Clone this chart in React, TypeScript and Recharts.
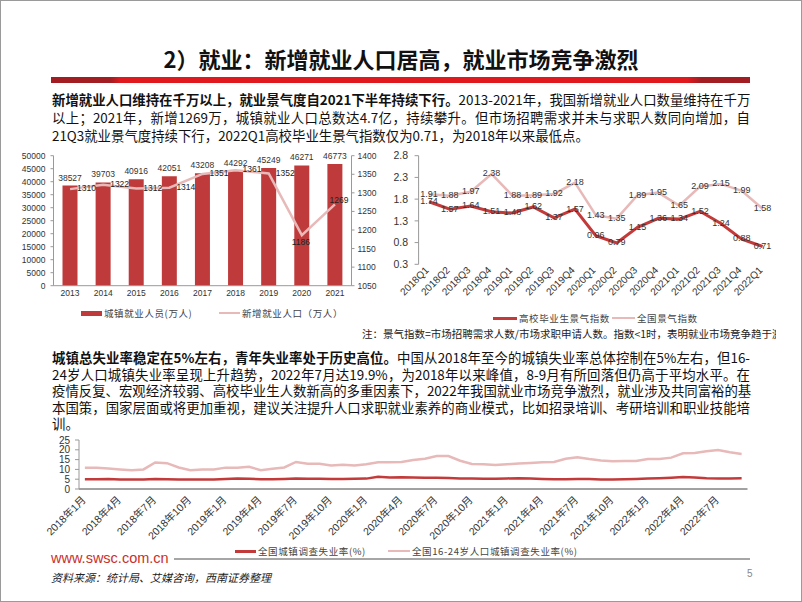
import React from 'react';
import { ComposedChart, LineChart, Bar, Line, XAxis, YAxis, LabelList } from 'recharts';

// 城镇就业人员 / 新增就业人口（万人）
const years = ['2013', '2014', '2015', '2016', '2017', '2018', '2019', '2020', '2021'];
const urbanEmployed = [38527, 39703, 40916, 42051, 43208, 44292, 45249, 46271, 46773];
const newEmployed = [1310, 1322, 1312, 1314, 1351, 1361, 1352, 1186, 1269];
const employedTicks = [0, 5000, 10000, 15000, 20000, 25000, 30000, 35000, 40000, 45000, 50000];
const newTicks = [1050, 1100, 1150, 1200, 1250, 1300, 1350, 1400];

// 景气指数
const quarters = ['2018Q1', '2018Q2', '2018Q3', '2018Q4', '2019Q1', '2019Q2', '2019Q3', '2019Q4', '2020Q1', '2020Q2', '2020Q3', '2020Q4', '2021Q1', '2021Q2', '2021Q3', '2021Q4', '2022Q1'];
const graduateIndex = [1.74, 1.57, 1.64, 1.51, 1.48, 1.62, 1.37, 1.57, 0.96, 0.79, 1.15, 1.36, 1.34, 1.52, 1.24, 0.88, 0.71];
const nationalIndex = [1.91, 1.88, 1.97, 2.38, 1.88, 1.89, 1.92, 2.18, 1.43, 1.35, 1.89, 1.95, 1.65, 2.09, 2.15, 1.99, 1.58];
const indexTicks = [0.3, 0.8, 1.3, 1.8, 2.3, 2.8];

// 调查失业率（%）
const months = [
  '2018年1月', '2018年2月', '2018年3月', '2018年4月', '2018年5月', '2018年6月', '2018年7月', '2018年8月', '2018年9月', '2018年10月', '2018年11月', '2018年12月',
  '2019年1月', '2019年2月', '2019年3月', '2019年4月', '2019年5月', '2019年6月', '2019年7月', '2019年8月', '2019年9月', '2019年10月', '2019年11月', '2019年12月',
  '2020年1月', '2020年2月', '2020年3月', '2020年4月', '2020年5月', '2020年6月', '2020年7月', '2020年8月', '2020年9月', '2020年10月', '2020年11月', '2020年12月',
  '2021年1月', '2021年2月', '2021年3月', '2021年4月', '2021年5月', '2021年6月', '2021年7月', '2021年8月', '2021年9月', '2021年10月', '2021年11月', '2021年12月',
  '2022年1月', '2022年2月', '2022年3月', '2022年4月', '2022年5月', '2022年6月', '2022年7月', '2022年8月', '2022年9月',
];
const urbanRate = [
  5.0, 5.0, 5.1, 4.9, 4.8, 4.8, 5.1, 5.0, 4.9, 4.9, 4.8, 4.9,
  5.1, 5.3, 5.2, 5.0, 5.0, 5.1, 5.3, 5.2, 5.2, 5.1, 5.1, 5.2,
  5.3, 6.2, 5.9, 6.0, 5.9, 5.7, 5.7, 5.6, 5.4, 5.3, 5.2, 5.2,
  5.4, 5.5, 5.3, 5.1, 5.0, 5.0, 5.1, 5.1, 4.9, 4.9, 5.0, 5.1,
  5.3, 5.5, 5.8, 6.1, 5.9, 5.5, 5.4, 5.3, 5.5,
];
const youthRate = [
  10.9, 10.9, 10.5, 10.0, 9.6, 10.0, 13.5, 13.2, 11.0, 9.6, 10.0, 10.0,
  10.9, 10.9, 11.3, 9.6, 10.3, 11.0, 13.8, 12.9, 12.9, 12.0, 12.4, 12.0,
  12.6, 13.6, 13.6, 13.8, 14.8, 15.4, 16.8, 16.8, 14.4, 12.8, 12.6, 12.3,
  12.6, 13.0, 13.3, 13.6, 13.8, 15.4, 16.2, 15.3, 14.6, 14.2, 14.3, 14.3,
  15.3, 15.3, 16.0, 18.2, 18.4, 19.3, 19.9, 18.7, 17.9,
];
const rateTicks = [0, 5, 10, 15, 20, 25];

const employData = years.map((year, i) => ({ year, employed: urbanEmployed[i], added: newEmployed[i] }));
const indexData = quarters.map((q, i) => ({ q, graduate: graduateIndex[i], national: nationalIndex[i] }));
const rateData = months.map((m, i) => ({ m, urban: urbanRate[i], youth: youthRate[i] }));

const NUM_FONT = '"Liberation Sans", Arial, "Noto Sans CJK SC", sans-serif';
const CJK_FONT = '"Noto Sans CJK SC", sans-serif';
const DARK_RED = '#BF3B3B';
const PINK = '#E8B9B9';

const AddedLabel = (props: any) => {
  const { x, y, value, index } = props;
  let tx = x + 7;
  let ty = y;
  let anchor: any = 'start';
  if (index === 7) { tx = x - 1; ty = y + 8; anchor = 'middle'; }
  if (index === 8) { tx = x + 4; ty = y - 4; anchor = 'middle'; }
  return (
    <text x={tx} y={ty} textAnchor={anchor} dominantBaseline="middle" fontSize={8.5} fill="#222" fontFamily={NUM_FONT}>
      {value}
    </text>
  );
};

const CenterLabel = (props: any) => {
  const { x, y, value } = props;
  return (
    <text x={x} y={y} textAnchor="middle" dominantBaseline="middle" fontSize={9} fill="#333" fontFamily={NUM_FONT}>
      {Number(value).toFixed(2)}
    </text>
  );
};

const SlantTick = (props: any) => {
  const { x, y, payload, size, shift } = props;
  return (
    <text x={x + shift} y={y} dy="0.35em" textAnchor="end" fontSize={size} fill="#333" fontFamily={NUM_FONT}
      transform={`rotate(-45 ${x + shift} ${y})`}>
      {payload.value}
    </text>
  );
};

const TextRow = ({ top, justify, children }: any) => (
  <div style={{
    position: 'absolute', left: 52, top, width: 698, fontSize: 13.4, lineHeight: '16px', whiteSpace: 'nowrap',
    textAlign: justify ? 'justify' : 'left', textAlignLast: justify ? 'justify' : 'left', color: '#111',
  }}>{children}</div>
);

const LegendItem = ({ left, top, swatch, label }: any) => (
  <div style={{ position: 'absolute', left, top, display: 'flex', alignItems: 'center', fontSize: 9.5, color: '#444', whiteSpace: 'nowrap' }}>
    {swatch}
    <span style={{ marginLeft: 2, letterSpacing: 0.6 }}>{label}</span>
  </div>
);

const line = (color: string, w: number, h: number) => <span style={{ display: 'inline-block', width: w, height: h, background: color }} />;

export default function App() {
  return (
    <div style={{ position: 'absolute', left: 0, top: 0, width: 802, height: 602, background: '#fff', overflow: 'hidden', fontFamily: CJK_FONT, boxShadow: 'inset 0 0 0 1px #9a9a9a' }}>
      <div style={{ position: 'absolute', left: 0, top: 43, width: 802, textAlign: 'center', fontSize: 22, fontWeight: 700, lineHeight: '30px', color: '#111' }}>
        2）就业：新增就业人口居高，就业市场竞争激烈
      </div>
      <div style={{ position: 'absolute', left: 51, top: 77, width: 699, height: 6, background: 'linear-gradient(to right, #A21D22 0%, #A21D22 8.5%, #E0191F 10%, #E0191F 91%, #A21D22 93%, #A21D22 100%)' }} />

      <TextRow top={90.5} justify>
        <b>新增就业人口维持在千万以上，就业景气度自2021下半年持续下行。</b>2013-2021年，我国新增就业人口数量维持在千万
      </TextRow>
      <TextRow top={108.5} justify>
        以上；2021年，新增1269万，城镇就业人口总数达4.7亿，持续攀升。但市场招聘需求并未与求职人数同向增加，自
      </TextRow>
      <TextRow top={126.5}>
        21Q3就业景气度持续下行，2022Q1高校毕业生景气指数仅为0.71，为2018年以来最低点。
      </TextRow>

      <div style={{ position: 'absolute', left: 0, top: 140 }}>
        <ComposedChart width={400} height={200} data={employData} margin={{ top: 15.7, right: 8.5, bottom: 34.3, left: 0 }}>
          <XAxis dataKey="year" height={20} interval={0} tickLine={false} tickSize={0} axisLine={{ stroke: '#999' }} tickMargin={4}
            tick={{ fontSize: 8.5, fill: '#333', fontFamily: NUM_FONT }} />
          <YAxis yAxisId="left" width={53.5} domain={[0, 50000]} ticks={employedTicks} interval={0} tickSize={3} tickMargin={5}
            axisLine={{ stroke: '#999' }} tickLine={{ stroke: '#999' }} tick={{ fontSize: 8.5, fill: '#333', fontFamily: NUM_FONT }} />
          <YAxis yAxisId="right" orientation="right" width={40} domain={[1050, 1400]} ticks={newTicks} interval={0} tickSize={3} tickMargin={3}
            axisLine={{ stroke: '#999' }} tickLine={{ stroke: '#999' }} tick={{ fontSize: 8.5, fill: '#333', fontFamily: NUM_FONT }} />
          <Bar yAxisId="left" dataKey="employed" barSize={15} fill={DARK_RED} isAnimationActive={false}>
            <LabelList dataKey="employed" position="top" offset={5} fontSize={8.5} fill="#333" fontFamily={NUM_FONT} />
          </Bar>
          <Line yAxisId="right" dataKey="added" stroke={PINK} strokeWidth={2.5} dot={false} isAnimationActive={false}>
            <LabelList dataKey="added" content={<AddedLabel />} />
          </Line>
        </ComposedChart>
      </div>
      <LegendItem left={81} top={306} swatch={line(DARK_RED, 21, 5)} label="城镇就业人员(万人)" />
      <LegendItem left={219} top={306} swatch={line(PINK, 21, 2.5)} label="新增就业人口（万人）" />

      <div style={{ position: 'absolute', left: 360, top: 140 }}>
        <LineChart width={420} height={200} data={indexData} margin={{ top: 15.7, right: 7, bottom: 30, left: 0 }}>
          <XAxis dataKey="q" height={45.7} interval={0} tickLine={false} axisLine={false} tickSize={0} tickMargin={4}
            padding={{ left: 10.4, right: 10.4 }} tick={(p: any) => <SlantTick {...p} size={10} shift={-2} />} />
          <YAxis width={58.6} domain={[0.3, 2.8]} ticks={indexTicks} interval={0} tickSize={4} tickMargin={6.5}
            tickFormatter={(v: number) => v.toFixed(1)}
            axisLine={{ stroke: '#999' }} tickLine={{ stroke: '#999' }} tick={{ fontSize: 10.5, fill: '#333', fontFamily: NUM_FONT }} />
          <Line dataKey="graduate" stroke="#C23A3A" strokeWidth={3} dot={false} isAnimationActive={false}>
            <LabelList dataKey="graduate" content={<CenterLabel />} />
          </Line>
          <Line dataKey="national" stroke={PINK} strokeWidth={2.5} dot={false} isAnimationActive={false}>
            <LabelList dataKey="national" content={<CenterLabel />} />
          </Line>
        </LineChart>
      </div>
      <LegendItem left={493} top={311} swatch={line('#C23A3A', 24, 3)} label="高校毕业生景气指数" />
      <LegendItem left={612} top={311} swatch={line(PINK, 23, 2.5)} label="全国景气指数" />
      <div style={{ position: 'absolute', left: 362, top: 326, width: 414, overflow: 'hidden', whiteSpace: 'nowrap', fontSize: 10.5, lineHeight: '16px', color: '#222' }}>
        注：景气指数=市场招聘需求人数/市场求职申请人数。指数&lt;1时，表明就业市场竞争趋于激烈
      </div>

      <TextRow top={349} justify>
        <b>城镇总失业率稳定在5%左右，青年失业率处于历史高位。</b>中国从2018年至今的城镇失业率总体控制在5%左右，但16-
      </TextRow>
      <TextRow top={365.5} justify>
        24岁人口城镇失业率呈现上升趋势，2022年7月达19.9%，为2018年以来峰值，8-9月有所回落但仍高于平均水平。在
      </TextRow>
      <TextRow top={382} justify>
        疫情反复、宏观经济较弱、高校毕业生人数新高的多重因素下，2022年我国就业市场竞争激烈，就业涉及共同富裕的基
      </TextRow>
      <TextRow top={398.5} justify>
        本国策，国家层面或将更加重视，建议关注提升人口求职就业素养的商业模式，比如招录培训、考研培训和职业技能培
      </TextRow>
      <TextRow top={415}>训。</TextRow>

      <div style={{ position: 'absolute', left: 0, top: 432 }}>
        <LineChart width={760} height={120} data={rateData} margin={{ top: 8, right: 12.5, bottom: 8, left: 0 }}>
          <XAxis dataKey="m" height={55} interval={2} tickLine={false} axisLine={{ stroke: '#444' }} tickSize={0} tickMargin={9}
            padding={{ left: 5.87, right: 5.87 }} tick={(p: any) => <SlantTick {...p} size={10.5} shift={-1} />} />
          <YAxis width={79} domain={[0, 25]} ticks={rateTicks} interval={0} tickSize={4} tickMargin={5}
            axisLine={{ stroke: '#999' }} tickLine={{ stroke: '#999' }} tick={{ fontSize: 10, fill: '#333', fontFamily: NUM_FONT }} />
          <Line dataKey="urban" stroke="#C23A3A" strokeWidth={2.5} dot={false} isAnimationActive={false} />
          <Line dataKey="youth" stroke={PINK} strokeWidth={2.5} dot={false} isAnimationActive={false} />
        </LineChart>
      </div>
      <LegendItem left={235} top={544} swatch={line('#C23A3A', 21, 3)} label="全国城镇调查失业率(%)" />
      <LegendItem left={388} top={544} swatch={line(PINK, 22, 2.5)} label="全国16-24岁人口城镇调查失业率(%)" />

      <div style={{ position: 'absolute', left: 51, top: 549, fontSize: 14.5, lineHeight: '18px', color: '#C9302C', fontFamily: NUM_FONT }}>www.swsc.com.cn</div>
      <div style={{ position: 'absolute', left: 174, top: 558, width: 576, height: 1.5, background: '#A6A6A6' }} />
      <div style={{ position: 'absolute', left: 51, top: 569, fontSize: 11, lineHeight: '16px', fontStyle: 'italic', color: '#222' }}>资料来源：统计局、艾媒咨询，西南证券整理</div>
      <div style={{ position: 'absolute', left: 747, top: 567, fontSize: 10, lineHeight: '14px', color: '#888', fontFamily: NUM_FONT }}>5</div>
    </div>
  );
}
